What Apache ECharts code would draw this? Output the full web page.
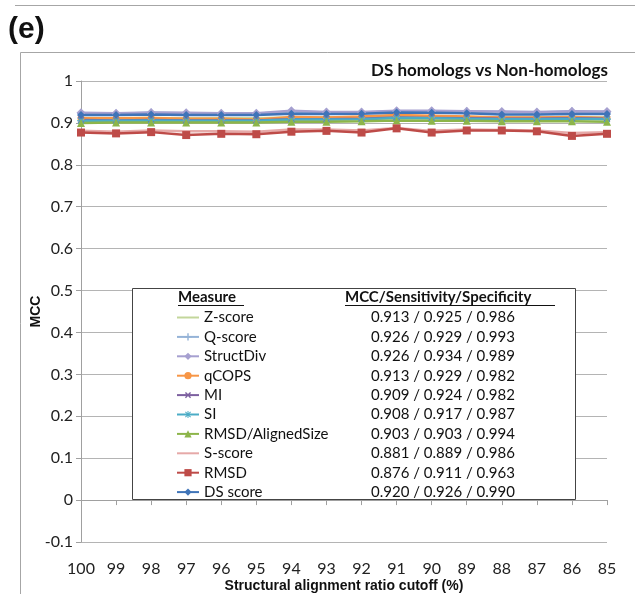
<!DOCTYPE html>
<html><head><meta charset="utf-8">
<script src="https://cdn.jsdelivr.net/npm/echarts@6/dist/echarts.min.js"></script>
<style>html,body{margin:0;padding:0;background:#fff}#c{width:635px;height:594px}</style>
</head><body><div id="c"></div>
<script>
const xLabels = ['100','99','98','97','96','95','94','93','92','91','90','89','88','87','86','85'];
const seriesNames = ['Z-score','Q-score','StructDiv','qCOPS','MI','SI','RMSD/AlignedSize','S-score','RMSD','DS score'];
const legendStats = ['0.913 / 0.925 / 0.986','0.926 / 0.929 / 0.993','0.926 / 0.934 / 0.989','0.913 / 0.929 / 0.982','0.909 / 0.924 / 0.982','0.908 / 0.917 / 0.987','0.903 / 0.903 / 0.994','0.881 / 0.889 / 0.986','0.876 / 0.911 / 0.963','0.920 / 0.926 / 0.990'];
const zScore    = [0.912,0.911,0.912,0.911,0.911,0.911,0.913,0.913,0.914,0.916,0.915,0.914,0.913,0.913,0.914,0.913];
const qScore    = [0.923,0.922,0.924,0.923,0.922,0.922,0.927,0.925,0.925,0.928,0.928,0.927,0.926,0.925,0.927,0.926];
const structDiv = [0.924,0.923,0.925,0.924,0.923,0.923,0.929,0.926,0.926,0.929,0.929,0.928,0.927,0.926,0.928,0.927];
const qCOPS     = [0.911,0.911,0.912,0.910,0.910,0.908,0.914,0.913,0.915,0.919,0.917,0.915,0.913,0.913,0.914,0.912];
const mi        = [0.907,0.906,0.907,0.906,0.906,0.906,0.909,0.909,0.910,0.913,0.912,0.911,0.910,0.910,0.911,0.910];
const si        = [0.905,0.905,0.906,0.905,0.905,0.905,0.908,0.908,0.909,0.912,0.911,0.910,0.909,0.909,0.910,0.909];
const rmsdAligned = [0.900,0.901,0.901,0.901,0.901,0.901,0.903,0.903,0.904,0.906,0.905,0.905,0.904,0.904,0.904,0.903];
const sScore    = [0.881,0.879,0.882,0.880,0.880,0.879,0.884,0.884,0.882,0.888,0.881,0.884,0.883,0.882,0.876,0.878];
const rmsd      = [0.877,0.875,0.878,0.871,0.874,0.873,0.879,0.881,0.877,0.887,0.877,0.882,0.882,0.880,0.869,0.874];
const dsScore   = [0.919,0.919,0.920,0.919,0.919,0.919,0.922,0.921,0.922,0.925,0.924,0.923,0.920,0.920,0.921,0.921];
const yTicks = {min:-0.1, max:1, interval:0.1};

const allData = [zScore,qScore,structDiv,qCOPS,mi,si,rmsdAligned,sScore,rmsd,dsScore];
const colors = ['#C3D69B','#95B3D7','#A6A0D0','#F79646','#7D60A0','#4BACC6','#8DB54A','#E6A9A8','#BE4B48','#3F74B8'];
const PLUS = 'path://M4,0H6V4H10V6H6V10H4V6H0V4H4Z';
const STAR = 'path://M4.3,0H5.7V3.3L8.1,0.9L9.1,1.9L6.7,4.3H10V5.7H6.7L9.1,8.1L8.1,9.1L5.7,6.7V10H4.3V6.7L1.9,9.1L0.9,8.1L3.3,5.7H0V4.3H3.3L0.9,1.9L1.9,0.9L4.3,3.3Z';
const symbols = ['none',PLUS,'diamond','circle',PLUS,STAR,'triangle','none','rect','diamond'];
const symSizes = [0,8,9,7,8,8,8,0,8,8];
const symRot = [0,0,0,0,45,0,0,0,0,0];
const F = 'Lato, "Open Sans", sans-serif';

const series = seriesNames.map((n,i)=>({
  name:n, type:'line', data:allData[i],
  symbol: symbols[i], symbolSize: symSizes[i], symbolRotate: symRot[i],
  showSymbol: symbols[i] !== 'none',
  lineStyle:{color:colors[i], width:2.5},
  itemStyle:{color:colors[i]},
  animation:false
}));

const legendData = seriesNames.map((n,i)=> symbols[i]==='none'
  ? {name:n, itemStyle:{opacity:0}}
  : {name:n});

const chart = echarts.init(document.getElementById('c'));
chart.setOption({
  animation:false,
  backgroundColor:'#fff',
  grid:{left:81, right:28, top:81, bottom:52, containLabel:false, outerBoundsMode:'none'},
  xAxis:{type:'category', data:xLabels, boundaryGap:false,
    axisLine:{lineStyle:{color:'#a0a0a0'}},
    axisTick:{show:true, length:5, lineStyle:{color:'#a0a0a0'}},
    axisLabel:{color:'#222', fontFamily:F, fontSize:16, margin:19, interval:0},
    name:'Structural alignment ratio cutoff (%)', nameLocation:'middle', nameGap:37, nameMoveOverlap:false,
    nameTextStyle:{fontFamily:'Liberation Sans, Arial, sans-serif', fontWeight:'bold', fontSize:14, color:'#111'}
  },
  yAxis:{type:'value', min:yTicks.min, max:yTicks.max, interval:yTicks.interval,
    axisLine:{show:true, lineStyle:{color:'#a0a0a0'}},
    axisTick:{show:true, length:5, lineStyle:{color:'#a0a0a0'}},
    splitLine:{lineStyle:{color:'#b4b4b4'}},
    axisLabel:{color:'#222', fontFamily:F, fontSize:16, margin:8, formatter:v=>String(+v.toFixed(1))},
    name:'MCC', nameLocation:'middle', nameGap:38, nameRotate:90, nameMoveOverlap:false,
    nameTextStyle:{fontFamily:'Liberation Sans, Arial, sans-serif', fontWeight:'bold', fontSize:14, color:'#111'}
  },
  legend:{orient:'vertical', left:176, top:310, padding:0, itemWidth:22, itemHeight:9, itemGap:4.4, z:6,
    data:legendData,
    formatter:(name)=>{const i=seriesNames.indexOf(name); return '{n|'+name+'}{v|'+legendStats[i]+'}';},
    textStyle:{fontFamily:F, fontSize:15, color:'#111', lineHeight:14,
      rich:{n:{width:167, fontFamily:F, fontSize:15, color:'#111', lineHeight:14}, v:{fontFamily:F, fontSize:15, color:'#111', lineHeight:14}}}
  },
  graphic:[
    {type:'line', shape:{x1:15,y1:5.5,x2:635,y2:5.5}, style:{stroke:'#a6a6a6', lineWidth:1}},
    {type:'line', shape:{x1:20.5,y1:52.5,x2:635,y2:52.5}, style:{stroke:'#a6a6a6', lineWidth:1}},
    {type:'line', shape:{x1:20.5,y1:52.5,x2:20.5,y2:594}, style:{stroke:'#a6a6a6', lineWidth:1}},
    {type:'text', left:8, top:15, style:{text:'(e)', font:'bold 30px "Liberation Sans", Arial, sans-serif', fill:'#111'}},
    {type:'text', right:27, top:62, style:{text:'DS homologs vs Non-homologs', font:'bold 17px '+F, fill:'#111'}},
    {type:'rect', z:5, shape:{x:132.5,y:288.5,width:443,height:211}, style:{fill:'#fff', stroke:'#444', lineWidth:1}},
    {type:'text', z:6, left:178, top:290, style:{text:'Measure', font:'bold 15px '+F, fill:'#111'}},
    {type:'line', z:6, shape:{x1:178,y1:305.5,x2:244,y2:305.5}, style:{stroke:'#111', lineWidth:1}},
    {type:'text', z:6, left:345, top:290, style:{text:'MCC/Sensitivity/Specificity', font:'bold 15px '+F, fill:'#111'}},
    {type:'line', z:6, shape:{x1:345,y1:305.5,x2:555,y2:305.5}, style:{stroke:'#111', lineWidth:1}}
  ],
  series: series
});
</script></body></html>
